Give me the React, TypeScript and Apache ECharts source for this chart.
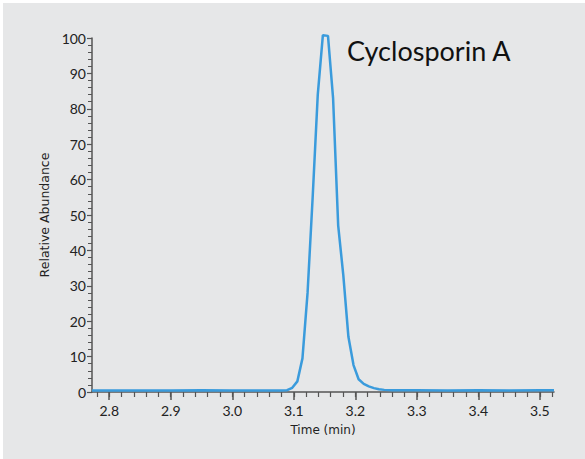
import React, { useEffect, useRef } from "react";
import * as echarts from "echarts";

const timeMin: number[] = [
  2.772, 2.8, 2.85, 2.9, 2.95, 3.0, 3.05, 3.08, 3.0892, 3.0975, 3.1058, 3.1141,
  3.1224, 3.1307, 3.139, 3.1473, 3.1556, 3.1639, 3.1722, 3.1805, 3.1888, 3.1971,
  3.2054, 3.2137, 3.222, 3.2303, 3.2386, 3.247, 3.26, 3.3, 3.35, 3.4, 3.45, 3.5, 3.523,
];
const abundance: number[] = [
  0.4, 0.4, 0.4, 0.4, 0.5, 0.4, 0.4, 0.4, 0.5, 1.2, 3.0, 9.5,
  28, 55, 84, 100.8, 100.6, 83, 47, 33, 15.6, 7.6,
  3.6, 2.3, 1.6, 1.1, 0.8, 0.6, 0.5, 0.5, 0.4, 0.5, 0.4, 0.5, 0.5,
];
const xTickLabels: number[] = [2.8, 2.9, 3.0, 3.1, 3.2, 3.3, 3.4, 3.5];
const compoundName = "Cyclosporin A";
const xAxisTitle = "Time (min)";
const yAxisTitle = "Relative Abundance";

const X_MIN = 2.772;
const X_MAX = 3.523;

const minorTicks: number[] = [];
for (let i = 139; i <= 176; i++) minorTicks.push(Math.round(i * 2) / 100);

export default function App() {
  const ref = useRef<HTMLDivElement>(null);
  useEffect(() => {
    if (!ref.current) return;
    const chart = echarts.init(ref.current, null, { renderer: "svg" });
    const font = "Lato";
    const nameFont = "DejaVu Sans";
    const axisColor = "#555";
    chart.setOption({
      animation: false,
      backgroundColor: "#ffffff",
      graphic: [
        {
          type: "rect",
          left: 3,
          top: 3,
          shape: { width: 582, height: 456 },
          style: { fill: "#e6e7e8" },
          z: -10,
        },
        {
          type: "text",
          left: 347,
          top: 37,
          style: { text: compoundName, fontSize: 27, fontFamily: font, fill: "#111" },
        },
      ],
      grid: { left: 92, right: 31, top: 38, bottom: 67, containLabel: false },
      xAxis: [
        {
          type: "value",
          min: X_MIN,
          max: X_MAX,
          name: xAxisTitle,
          nameLocation: "middle",
          nameGap: 32,
          nameTextStyle: { fontSize: 12, fontFamily: nameFont, color: "#222", verticalAlign: "top" },
          axisLine: { lineStyle: { color: axisColor, width: 1.5 } },
          axisTick: { show: true, length: 8, customValues: xTickLabels, lineStyle: { color: axisColor, width: 1.5 } },
          axisLabel: {
            customValues: xTickLabels,
            formatter: (v: number) => v.toFixed(1),
            fontSize: 14,
            fontFamily: font,
            color: "#222",
            margin: 11,
          },
          splitLine: { show: false },
        },
        {
          type: "value",
          min: X_MIN,
          max: X_MAX,
          position: "bottom",
          axisLine: { show: false },
          axisTick: { show: true, length: 5, customValues: minorTicks, lineStyle: { color: axisColor, width: 1.2 } },
          axisLabel: { show: false },
          splitLine: { show: false },
        },
      ],
      yAxis: {
        type: "value",
        min: 0,
        max: 100,
        interval: 10,
        name: yAxisTitle,
        nameLocation: "middle",
        nameGap: 32,
        nameTextStyle: { fontSize: 12.5, fontFamily: nameFont, color: "#222" },
        axisLine: { show: true, lineStyle: { color: axisColor, width: 1.5 } },
        axisTick: { show: true, length: 5, lineStyle: { color: axisColor, width: 1.2 } },
        minorTick: { show: true, splitNumber: 5, length: 4, lineStyle: { color: axisColor, width: 1 } },
        axisLabel: { fontSize: 14, fontFamily: font, color: "#222", margin: 6 },
        splitLine: { show: false },
      },
      series: [
        {
          type: "line",
          xAxisIndex: 0,
          clip: false,
          data: timeMin.map((t, i) => [t, abundance[i]]),
          showSymbol: false,
          symbol: "none",
          lineStyle: { color: "#3a9bdc", width: 2.5 },
          z: 5,
        },
      ],
    });
    return () => chart.dispose();
  }, []);
  return (
    <div
      ref={ref}
      style={{ position: "fixed", left: 0, top: 0, width: 585, height: 459 }}
    />
  );
}
